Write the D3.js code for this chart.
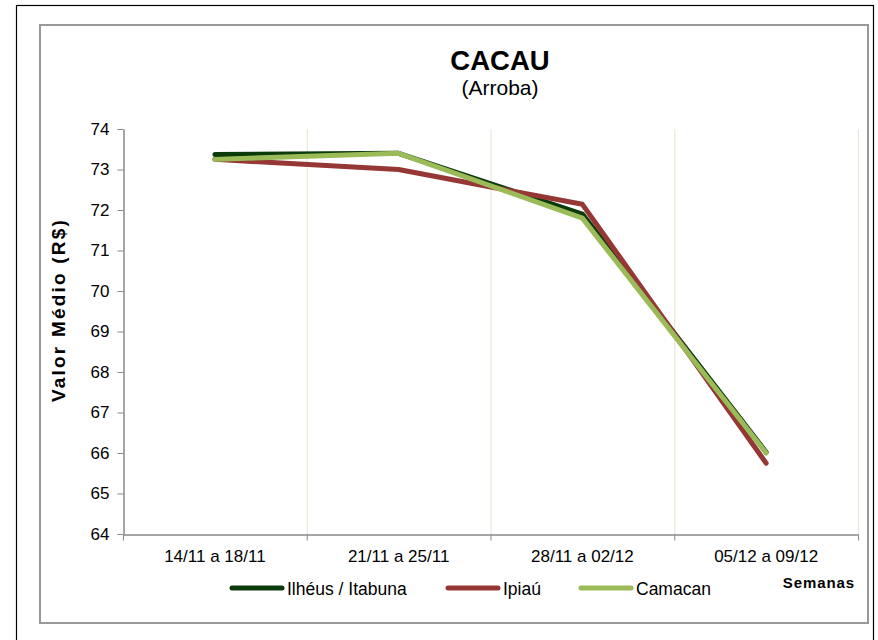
<!DOCTYPE html>
<html lang="pt">
<head>
    <meta charset="UTF-8">
    <title>Cacau (Arroba)</title>
    <script src="https://d3js.org/d3.v7.min.js"></script>
    <style>
        body { margin: 0; font-family: "Liberation Sans", Arial, sans-serif; background: #fff; }
        .axis text { font-size: 17px; fill: #000; }
        .axis path, .axis line { stroke: #888; }
    </style>
</head>
<body>
    <div id="chart"></div>
    <script>
        const semanas = ["14/11 a 18/11", "21/11 a 25/11", "28/11 a 02/12", "05/12 a 09/12"];
        const ilheus = [73.37, 73.40, 71.90, 66.02];
        const ipiau = [73.25, 73.00, 72.14, 65.75];
        const camacan = [73.25, 73.40, 71.80, 66.00];
        const yTicks = [64, 65, 66, 67, 68, 69, 70, 71, 72, 73, 74];

        const series = [
            { name: "Ilhéus / Itabuna", values: ilheus, color: "#0b3a0b" },
            { name: "Ipiaú", values: ipiau, color: "#953735" },
            { name: "Camacan", values: camacan, color: "#9bbb59" }
        ];

        const W = 878, H = 640;
        const svg = d3.select("#chart").append("svg")
            .attr("width", W).attr("height", H);

        // frames
        svg.append("rect").attr("x", 16.5).attr("y", 5.5).attr("width", 857).attr("height", 660)
            .attr("fill", "none").attr("stroke", "#000").attr("stroke-width", 1.2);
        svg.append("rect").attr("x", 40).attr("y", 25).attr("width", 828).attr("height", 598)
            .attr("fill", "none").attr("stroke", "#999").attr("stroke-width", 2);

        const plotL = 123, plotR = 858, plotT = 129, plotB = 534;

        const x = d3.scaleBand().domain(semanas).range([plotL, plotR]);
        const y = d3.scaleLinear().domain([64, 74]).range([plotB, plotT]);

        // vertical grid lines
        svg.append("g").selectAll("line")
            .data(d3.range(1, semanas.length + 1))
            .enter().append("line")
            .attr("x1", i => plotL + x.bandwidth() * i + 0.5)
            .attr("x2", i => plotL + x.bandwidth() * i + 0.5)
            .attr("y1", plotT).attr("y2", plotB)
            .attr("stroke", "#ebe7d8").attr("stroke-width", 1.2);

        // y axis
        svg.append("g").attr("class", "axis")
            .attr("transform", `translate(${plotL + 0.5},0)`)
            .call(d3.axisLeft(y).tickValues(yTicks).tickSize(6).tickPadding(8).tickSizeOuter(0))
            .call(g => g.select(".domain").attr("stroke-width", 1.5));

        // x axis
        const xAxis = svg.append("g").attr("class", "axis")
            .attr("transform", `translate(0,${plotB + 0.5})`)
            .call(d3.axisBottom(x).tickSize(0).tickPadding(15).tickSizeOuter(0));
        xAxis.select(".domain").attr("stroke-width", 1.5);
        xAxis.selectAll("line.btick")
            .data(d3.range(semanas.length + 1))
            .enter().append("line").attr("class", "btick")
            .attr("x1", i => plotL + i * x.bandwidth() + 0.5)
            .attr("x2", i => plotL + i * x.bandwidth() + 0.5)
            .attr("y1", 0).attr("y2", 6)
            .attr("stroke", "#888");

        // lines
        const line = d3.line()
            .x((d, i) => x(semanas[i]) + x.bandwidth() / 2)
            .y(d => y(d));

        svg.append("g").selectAll("path")
            .data(series)
            .enter().append("path")
            .attr("d", d => line(d.values))
            .attr("fill", "none")
            .attr("stroke", d => d.color)
            .attr("stroke-width", 5)
            .attr("stroke-linejoin", "round")
            .attr("stroke-linecap", "round");

        // title
        svg.append("text").attr("x", 500).attr("y", 70)
            .attr("text-anchor", "middle")
            .style("font-size", "27.5px").style("font-weight", "bold")
            .text("CACAU");
        svg.append("text").attr("x", 500).attr("y", 95)
            .attr("text-anchor", "middle")
            .style("font-size", "21px")
            .text("(Arroba)");

        // y label
        svg.append("text")
            .attr("transform", "translate(65,310) rotate(-90)")
            .attr("text-anchor", "middle")
            .style("font-size", "19px").style("font-weight", "bold")
            .style("letter-spacing", "2.2px")
            .text("Valor Médio (R$)");

        // x label
        svg.append("text").attr("x", 855).attr("y", 588)
            .attr("text-anchor", "end")
            .style("font-size", "15px").style("font-weight", "bold")
            .style("letter-spacing", "0.9px")
            .text("Semanas");

        // legend
        const legendX = [232, 448, 581];
        const legend = svg.append("g").selectAll("g")
            .data(series)
            .enter().append("g")
            .attr("transform", (d, i) => `translate(${legendX[i]},588)`);
        legend.append("line")
            .attr("x1", 0).attr("x2", 50).attr("y1", 0).attr("y2", 0)
            .attr("stroke", d => d.color).attr("stroke-width", 5)
            .attr("stroke-linecap", "round");
        legend.append("text")
            .attr("x", 55).attr("y", 6.5)
            .style("font-size", "17.5px")
            .text(d => d.name);
    </script>
</body>
</html>
